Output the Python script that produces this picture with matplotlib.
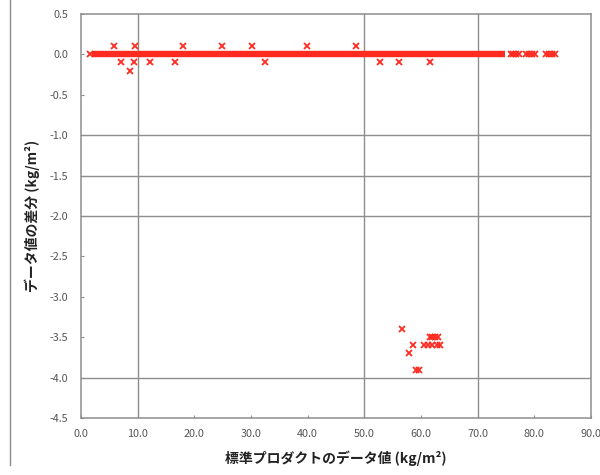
import matplotlib
matplotlib.use("Agg")
import matplotlib.pyplot as plt
from matplotlib.lines import Line2D

plt.rcParams['font.family'] = ['Noto Sans CJK JP', 'DejaVu Sans']

# Dense run of points with zero difference (drawn as a continuous band)
zero_band_x = [2.0, 74.8]
zero_band_y = [0.0, 0.0]

# Individual scatter points
x_vals = [5.8, 9.6, 18.0, 24.8, 30.2, 39.8, 48.5,
          7.0, 9.4, 12.2, 16.6, 32.4, 52.8, 56.2, 61.6,
          8.7,
          1.6, 75.8, 76.3, 76.8, 77.3, 78.5, 79.0, 79.6, 80.2, 82.1, 82.6, 83.1, 83.6,
          56.6, 61.5, 62.0, 62.5, 63.0,
          58.5, 60.5, 61.2, 62.0, 62.8, 63.3,
          57.8, 59.2, 59.7]
y_vals = [0.1, 0.1, 0.1, 0.1, 0.1, 0.1, 0.1,
          -0.1, -0.1, -0.1, -0.1, -0.1, -0.1, -0.1, -0.1,
          -0.2,
          0.0, 0.0, 0.0, 0.0, 0.0, 0.0, 0.0, 0.0, 0.0, 0.0, 0.0, 0.0, 0.0,
          -3.4, -3.5, -3.5, -3.5, -3.5,
          -3.6, -3.6, -3.6, -3.6, -3.6, -3.6,
          -3.7, -3.9, -3.9]

x_ticks = [0, 10, 20, 30, 40, 50, 60, 70, 80, 90]
y_ticks = [0.5, 0.0, -0.5, -1.0, -1.5, -2.0, -2.5, -3.0, -3.5, -4.0, -4.5]
x_grid = [10, 50, 70]
y_grid = [-1.0, -1.5, -2.0, -4.0]

xlabel = "標準プロダクトのデータ値 (kg/m²)"
ylabel = "データ値の差分 (kg/m²)"

red = '#ff2a20'
gray = '#8e8e8e'

fig = plt.figure(figsize=(6, 4.75), dpi=100)
ax = fig.add_axes([0.135, 0.12, 0.85, 0.8505])

for gx in x_grid:
    ax.axvline(gx, color=gray, lw=1.0, zorder=1)
for gy in y_grid:
    ax.axhline(gy, color=gray, lw=1.0, zorder=1)

ax.plot(zero_band_x, zero_band_y, color=red, lw=4.6, solid_capstyle='butt', zorder=3)
ax.plot(x_vals, y_vals, linestyle='none', marker='x', color=red,
        markersize=4.4, markeredgewidth=1.3, zorder=4)

ax.set_xlim(0, 90)
ax.set_ylim(-4.5, 0.5)
ax.set_xticks(x_ticks)
ax.set_xticklabels([f"{v:.1f}" for v in x_ticks])
ax.set_yticks(y_ticks)
ax.set_yticklabels([f"{v:.1f}" for v in y_ticks])
ax.tick_params(axis='both', direction='in', length=2.5, width=0.8, color=gray,
               labelsize=7.8, labelcolor='#555555')
ax.tick_params(axis='x', pad=8)
ax.tick_params(axis='y', pad=9)

for s in ax.spines.values():
    s.set_color(gray)
    s.set_linewidth(1.1)

ax.set_xlabel(xlabel, fontsize=10, fontweight='bold', color='#222222', labelpad=8)
ax.set_ylabel(ylabel, fontsize=10, fontweight='bold', color='#222222', labelpad=7)

# Left edge of the outer chart frame
fig.add_artist(Line2D([10 / 600, 10 / 600], [10 / 475, 1.0], transform=fig.transFigure,
                      color=gray, lw=1.0))

fig.savefig("out.png", dpi=100)
